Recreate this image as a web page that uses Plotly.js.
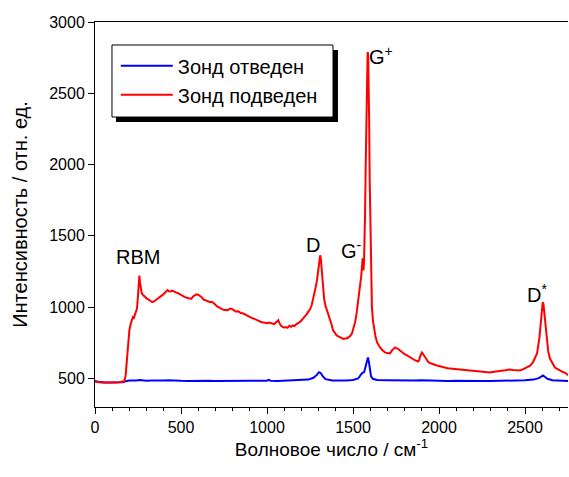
<!DOCTYPE html>
<html>
<head>
<meta charset="utf-8">
<script src="https://cdn.plot.ly/plotly-3.0.1.min.js"></script>
<style>html,body{margin:0;padding:0;background:#fff;}#chart{width:569px;height:477px;}</style>
</head>
<body>
<div id="chart"></div>
<script>
// Red: probe approached (Зонд подведен)
const redX = [0,10,20,40,60,80,100,120,140,160,170,178,185,192,200,207,214,220,226,232,238,244,250,255,258,262,267,272,280,290,300,310,322,333,345,355,365,375,385,395,405,415,422,430,440,450,460,470,480,490,500,510,520,530,540,550,560,570,580,590,600,610,620,630,640,650,660,670,680,690,700,710,720,730,740,750,760,770,780,790,800,810,820,830,840,850,860,870,880,890,900,910,920,930,940,950,960,970,980,990,1000,1010,1020,1030,1040,1050,1060,1066,1072,1080,1090,1100,1110,1120,1130,1140,1150,1160,1170,1180,1190,1200,1210,1220,1230,1240,1250,1260,1267,1275,1283,1290,1296,1300,1305,1309,1313,1318,1322,1326,1332,1340,1348,1355,1362,1368,1375,1384,1395,1405,1415,1424,1435,1445,1455,1465,1475,1485,1494,1503,1512,1520,1529,1538,1547,1552,1556,1559,1561,1564,1567,1570,1574,1578,1582,1585,1588,1591,1594,1597,1600,1603,1606,1610,1616,1622,1630,1640,1650,1657,1670,1686,1700,1715,1727,1737,1745,1752,1762,1775,1785,1800,1814,1828,1843,1860,1878,1885,1890,1896,1901,1907,1914,1919,1925,1930,1940,1955,1970,1988,2000,2015,2030,2050,2064,2080,2100,2120,2140,2160,2180,2200,2221,2240,2260,2280,2297,2310,2325,2340,2355,2370,2385,2400,2413,2430,2450,2471,2490,2511,2530,2546,2558,2570,2584,2592,2599,2603,2607,2612,2616,2622,2627,2635,2645,2660,2674,2690,2703,2720,2735,2750];
const redY = [484,478,474,472,471,472,471,472,473,475,480,520,620,740,840,880,915,930,925,945,965,990,1080,1190,1222,1170,1110,1097,1085,1070,1062,1055,1045,1035,1042,1050,1062,1070,1080,1088,1100,1115,1120,1112,1110,1116,1108,1104,1100,1092,1088,1080,1072,1068,1064,1060,1058,1075,1085,1090,1088,1080,1070,1055,1050,1048,1042,1035,1038,1030,1018,1005,1000,995,985,980,982,978,986,990,985,975,968,972,962,958,957,950,940,935,928,925,921,915,910,905,898,895,893,890,888,892,890,886,880,890,905,908,890,872,862,858,860,855,870,862,872,868,880,885,895,907,918,935,950,964,985,1015,1048,1090,1140,1185,1240,1290,1345,1364,1340,1275,1190,1118,1060,1010,980,964,935,915,880,837,815,802,795,788,784,778,780,781,790,800,816,850,893,950,1027,1110,1209,1280,1343,1300,1258,1310,1420,1650,2000,2450,2750,2790,2770,2620,2300,1900,1620,1400,1200,1000,905,858,800,753,730,718,700,683,678,676,697,712,718,713,708,695,683,670,662,650,640,628,619,630,655,678,682,672,660,655,645,632,612,605,596,591,588,582,579,572,570,568,566,564,563,560,555,552,549,548,545,543,542,546,548,550,549,552,558,561,563,560,558,556,565,577,590,612,640,676,788,890,980,1034,1025,960,907,820,746,690,640,605,577,565,556,545,540,522];

// Blue: probe withdrawn (Зонд отведен)
const blueX = [0,20,40,60,80,100,120,140,160,175,185,200,220,240,260,280,300,330,360,400,430,460,500,540,580,620,660,700,740,780,800,850,900,950,1000,1010,1020,1060,1100,1150,1200,1240,1270,1290,1302,1312,1325,1340,1380,1420,1460,1500,1530,1545,1555,1565,1575,1582,1587,1592,1598,1605,1615,1640,1700,1750,1800,1850,1900,1950,2000,2050,2100,2150,2200,2250,2300,2350,2400,2450,2500,2550,2580,2595,2605,2615,2630,2660,2700,2750];
const blueY = [478,474,472,471,472,471,472,473,474,476,482,486,484,486,490,486,484,485,484,486,488,485,484,483,485,484,484,483,484,486,484,483,484,484,484,490,484,483,484,486,488,492,505,525,544,538,515,495,486,484,486,490,500,525,540,545,585,630,647,620,560,515,498,490,488,486,487,485,487,484,484,483,484,482,484,483,482,485,484,486,487,492,502,515,521,512,498,488,485,482];

const seriesNames = ['Зонд отведен', 'Зонд подведен'];
const xTitle = 'Волновое число / см<sup>-1</sup>';
const yTitle = 'Интенсивность / отн. ед.';
const peakLabels = ['RBM', 'D', 'G<sup>-</sup>', 'G<sup>+</sup>', 'D<sup>*</sup>'];
const peakLabelX = [250, 1267, 1494, 1663, 2570];
const peakLabelY = [1350, 1434, 1406, 2768, 1097];

const FONT = 'Arial, "Liberation Sans", sans-serif';

const traces = [
  {x: blueX, y: blueY, name: seriesNames[0], type: 'scatter', mode: 'lines', line: {color: '#0000ff', width: 2}},
  {x: redX, y: redY, name: seriesNames[1], type: 'scatter', mode: 'lines', line: {color: '#ff0000', width: 2}}
];

const annotations = peakLabels.map((t, i) => ({
  x: peakLabelX[i], y: peakLabelY[i], xref: 'x', yref: 'y', text: t,
  showarrow: false, font: {family: FONT, size: 20, color: '#000'}
}));

const layout = {
  width: 569, height: 477,
  margin: {l: 95, r: 1, t: 22, b: 70},
  paper_bgcolor: '#fff', plot_bgcolor: '#fff',
  font: {family: FONT, color: '#000'},
  showlegend: true,
  legend: {
    x: 0.044, y: 0.937, xanchor: 'left', yanchor: 'top',
    bgcolor: 'rgba(0,0,0,0)', borderwidth: 0,
    font: {family: FONT, size: 20, color: '#000'},
    itemwidth: 52
  },
  shapes: [
    {type: 'rect', xref: 'paper', yref: 'paper', layer: 'above',
     x0: 0.0444, x1: 0.5137, y0: 0.7403, y1: 0.9273,
     fillcolor: '#000', line: {width: 0}},
    {type: 'rect', xref: 'paper', yref: 'paper', layer: 'above',
     x0: 0.0359, x1: 0.5032, y0: 0.7532, y1: 0.9403,
     fillcolor: '#fff', line: {color: '#000', width: 1}}
  ],
  annotations: annotations,
  xaxis: {
    range: [0, 2750], autorange: false,
    showgrid: false, zeroline: false,
    showline: true, linecolor: '#000', linewidth: 1, mirror: true,
    ticks: 'outside', ticklen: 6, tickcolor: '#000', tickwidth: 1,
    dtick: 500, tick0: 0,
    minor: {dtick: 100, ticks: 'outside', ticklen: 3, tickcolor: '#000', showgrid: false},
    tickfont: {family: FONT, size: 16, color: '#000'},
    title: {text: xTitle, font: {family: FONT, size: 19, color: '#000'}, standoff: 1}
  },
  yaxis: {
    range: [300, 3000], autorange: false,
    showgrid: false, zeroline: false,
    showline: true, linecolor: '#000', linewidth: 1,
    ticks: 'outside', ticklen: 6, tickcolor: '#000', tickwidth: 1,
    dtick: 500, tick0: 0,
    tickfont: {family: FONT, size: 16, color: '#000'},
    title: {text: yTitle, font: {family: FONT, size: 20, color: '#000'}, standoff: 16}
  }
};

Plotly.newPlot('chart', traces, layout, {displayModeBar: false, staticPlot: true});
</script>
</body>
</html>
